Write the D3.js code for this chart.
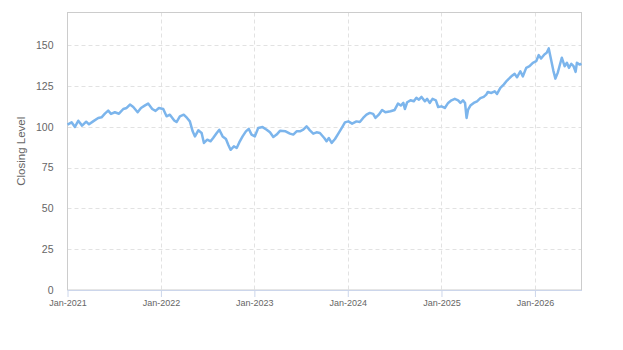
<!DOCTYPE html>
<html>
<head>
<meta charset="utf-8">
<script src="https://cdn.jsdelivr.net/npm/d3@7"></script>
<style>
  body { margin: 0; background: #fff; }
  svg { display: block; font-family: "Liberation Sans", Arial, sans-serif; }
</style>
</head>
<body>
<svg id="chart" width="623" height="350"></svg>
<script>
// closing level, every two weeks
const dates = [
  '2021-01-01','2021-01-17','2021-01-30','2021-02-12','2021-02-27','2021-03-15','2021-03-26','2021-04-11',
  '2021-05-01','2021-05-14','2021-05-27','2021-06-09','2021-06-20','2021-07-05','2021-07-21','2021-08-07',
  '2021-08-20','2021-09-02','2021-09-15','2021-10-02','2021-10-15','2021-10-31','2021-11-12','2021-11-28',
  '2021-12-11','2021-12-24','2022-01-10','2022-01-23','2022-02-05','2022-02-22','2022-03-03','2022-03-16',
  '2022-03-31','2022-04-13','2022-04-24','2022-05-05','2022-05-14','2022-05-27','2022-06-09','2022-06-18',
  '2022-07-01','2022-07-14','2022-07-24','2022-08-07','2022-08-17','2022-08-30','2022-09-12','2022-09-21',
  '2022-09-30','2022-10-13','2022-10-24','2022-11-03','2022-11-16','2022-11-29','2022-12-10','2022-12-21',
  '2023-01-03','2023-01-16','2023-02-02','2023-02-18','2023-03-03','2023-03-16','2023-03-29','2023-04-11',
  '2023-05-03','2023-05-20','2023-06-02','2023-06-15','2023-06-28','2023-07-11','2023-07-24','2023-08-06',
  '2023-08-19','2023-09-01','2023-09-14','2023-10-01','2023-10-10','2023-10-19','2023-10-30','2023-11-12',
  '2023-11-25','2023-12-08','2023-12-21','2024-01-03','2024-01-18','2024-02-04','2024-02-17','2024-03-01',
  '2024-03-14','2024-03-27','2024-04-09','2024-04-18','2024-05-01','2024-05-14','2024-05-27','2024-06-16',
  '2024-07-02','2024-07-15','2024-07-26','2024-08-05','2024-08-11','2024-08-20','2024-09-02','2024-09-15',
  '2024-09-25','2024-10-05','2024-10-15','2024-10-28','2024-11-06','2024-11-16','2024-11-27','2024-12-10',
  '2024-12-19','2025-01-01','2025-01-14','2025-01-27','2025-02-09','2025-02-22','2025-03-07','2025-03-16',
  '2025-03-26','2025-04-03','2025-04-09','2025-04-15','2025-04-24','2025-05-07','2025-05-20','2025-06-02',
  '2025-06-15','2025-06-25','2025-07-01','2025-07-15','2025-07-28','2025-08-06','2025-08-19','2025-09-01',
  '2025-09-14','2025-10-01','2025-10-14','2025-10-23','2025-11-05','2025-11-15','2025-11-28','2025-12-11',
  '2025-12-24','2026-01-06','2026-01-16','2026-01-25','2026-02-07','2026-02-16','2026-02-24','2026-03-05',
  '2026-03-14','2026-03-22','2026-03-31','2026-04-07','2026-04-16','2026-04-27','2026-05-06','2026-05-14',
  '2026-05-23','2026-06-01','2026-06-09','2026-06-14','2026-06-25','2026-07-02'
]
const closing = [
  101.3, 102.7, 99.9, 103.7, 100.7, 103.1, 101.5, 103.3,
  105.4, 105.8, 108.0, 109.9, 107.9, 108.9, 108.0, 110.9,
  111.5, 113.6, 112.1, 108.9, 111.5, 113.1, 114.2, 110.9,
  109.7, 111.5, 110.9, 106.4, 107.4, 103.9, 102.9, 106.4,
  107.4, 105.4, 103.3, 97.2, 94.1, 97.8, 96.2, 90.1,
  92.1, 91.1, 93.1, 96.2, 98.2, 94.1, 92.5, 89.0,
  85.9, 88.0, 87.0, 90.4, 94.1, 97.2, 98.7, 95.2,
  94.1, 99.2, 99.8, 98.2, 96.6, 93.7, 95.2, 97.5,
  97.2, 95.8, 95.2, 97.2, 97.2, 98.2, 100.3, 97.8,
  95.8, 96.6, 96.2, 93.1, 91.1, 93.1, 90.1, 92.5,
  95.8, 99.2, 102.7, 103.3, 101.9, 103.3, 102.9, 105.4,
  107.4, 108.5, 107.9, 105.4, 107.4, 110.3, 108.9, 109.5,
  110.3, 114.2, 113.0, 114.6, 110.9, 115.0, 116.2, 115.6,
  117.7, 116.6, 118.3, 115.6, 117.1, 114.6, 117.1, 116.2,
  112.1, 112.5, 111.5, 114.6, 116.2, 117.1, 116.2, 114.6,
  116.2, 114.6, 105.4, 110.5, 113.0, 114.6, 115.6, 117.5,
  118.3, 119.7, 121.3, 120.7, 121.7, 120.1, 123.8, 125.8,
  128.3, 130.9, 132.4, 130.3, 134.0, 130.9, 136.1, 137.1,
  139.2, 140.2, 143.9, 141.8, 144.3, 145.3, 148.0, 141.2,
  134.4, 129.5, 133.0, 137.1, 142.3, 137.1, 139.2, 136.1,
  138.6, 137.1, 133.6, 139.2, 138.1, 138.6
]
const yTicks = [0, 25, 50, 75, 100, 125, 150]
const xTicks = ['2021-01-01', '2022-01-01', '2023-01-01', '2024-01-01', '2025-01-01', '2026-01-01']
const yTitle = 'Closing Level'

const parse = d3.timeParse('%Y-%m-%d')
const series = dates.map((d, i) => ({ date: parse(d), value: closing[i] }))

const plotLeft = 67.5, plotRight = 581.5, plotTop = 12.5, plotBottom = 290

let chart = d3.select('#chart')

let xScale = d3.scaleTime()
    .domain([parse('2021-01-01'), parse('2026-07-02')])
    .range([plotLeft, plotRight])

let yScale = d3.scaleLinear()
    .domain([0, 170])
    .range([plotBottom, plotTop])

// gridlines
chart.append('g')
    .selectAll('line')
    .data(yTicks.filter(t => t > 0))
    .join('line')
    .attr('x1', plotLeft).attr('x2', plotRight)
    .attr('y1', d => Math.round(yScale(d)) + 0.5)
    .attr('y2', d => Math.round(yScale(d)) + 0.5)
    .attr('stroke', '#e2e2e2')
    .attr('stroke-dasharray', '4,3')

chart.append('g')
    .selectAll('line')
    .data(xTicks.slice(1).map(parse))
    .join('line')
    .attr('x1', d => Math.round(xScale(d)) + 0.5)
    .attr('x2', d => Math.round(xScale(d)) + 0.5)
    .attr('y1', plotTop).attr('y2', plotBottom)
    .attr('stroke', '#e2e2e2')
    .attr('stroke-dasharray', '4,3')

// plot border
chart.append('rect')
    .attr('x', plotLeft).attr('y', plotTop)
    .attr('width', plotRight - plotLeft).attr('height', plotBottom - plotTop)
    .attr('fill', 'none')
    .attr('stroke', '#cccccc')

// x axis
let xAxisGen = d3.axisBottom(xScale)
    .tickValues(xTicks.map(parse))
    .tickFormat(d3.timeFormat('%b-%Y'))
    .tickSize(7)
    .tickSizeOuter(0)

let xAxis = chart.append('g')
    .attr('transform', `translate(0, ${plotBottom})`)
    .call(xAxisGen)
xAxis.select('.domain').attr('stroke', '#ccd6eb')
xAxis.selectAll('.tick line').attr('stroke', '#ccd6eb')
xAxis.selectAll('text')
    .attr('fill', '#666')
    .attr('font-size', '9px')
    .attr('font-family', '"Liberation Sans", Arial, sans-serif')
    .attr('y', 10)

// y axis
let yAxisGen = d3.axisLeft(yScale)
    .tickValues(yTicks)
    .tickSize(0)
    .tickPadding(14)

let yAxis = chart.append('g')
    .attr('transform', `translate(${plotLeft}, 0)`)
    .call(yAxisGen)
yAxis.select('.domain').remove()
yAxis.selectAll('text')
    .attr('fill', '#666')
    .attr('font-size', '10.5px')
    .attr('font-family', '"Liberation Sans", Arial, sans-serif')

chart.append('text')
    .attr('transform', `translate(25, ${(plotTop + plotBottom) / 2}) rotate(-90)`)
    .attr('text-anchor', 'middle')
    .attr('fill', '#666')
    .attr('font-size', '11.5px')
    .text(yTitle)

// closing line
let line = d3.line()
    .x(d => xScale(d.date))
    .y(d => yScale(d.value))

chart.append('path')
    .datum(series)
    .attr('fill', 'none')
    .attr('stroke', '#7cb5ec')
    .attr('stroke-width', 2.5)
    .attr('stroke-linejoin', 'round')
    .attr('d', line)
</script>
</body>
</html>
